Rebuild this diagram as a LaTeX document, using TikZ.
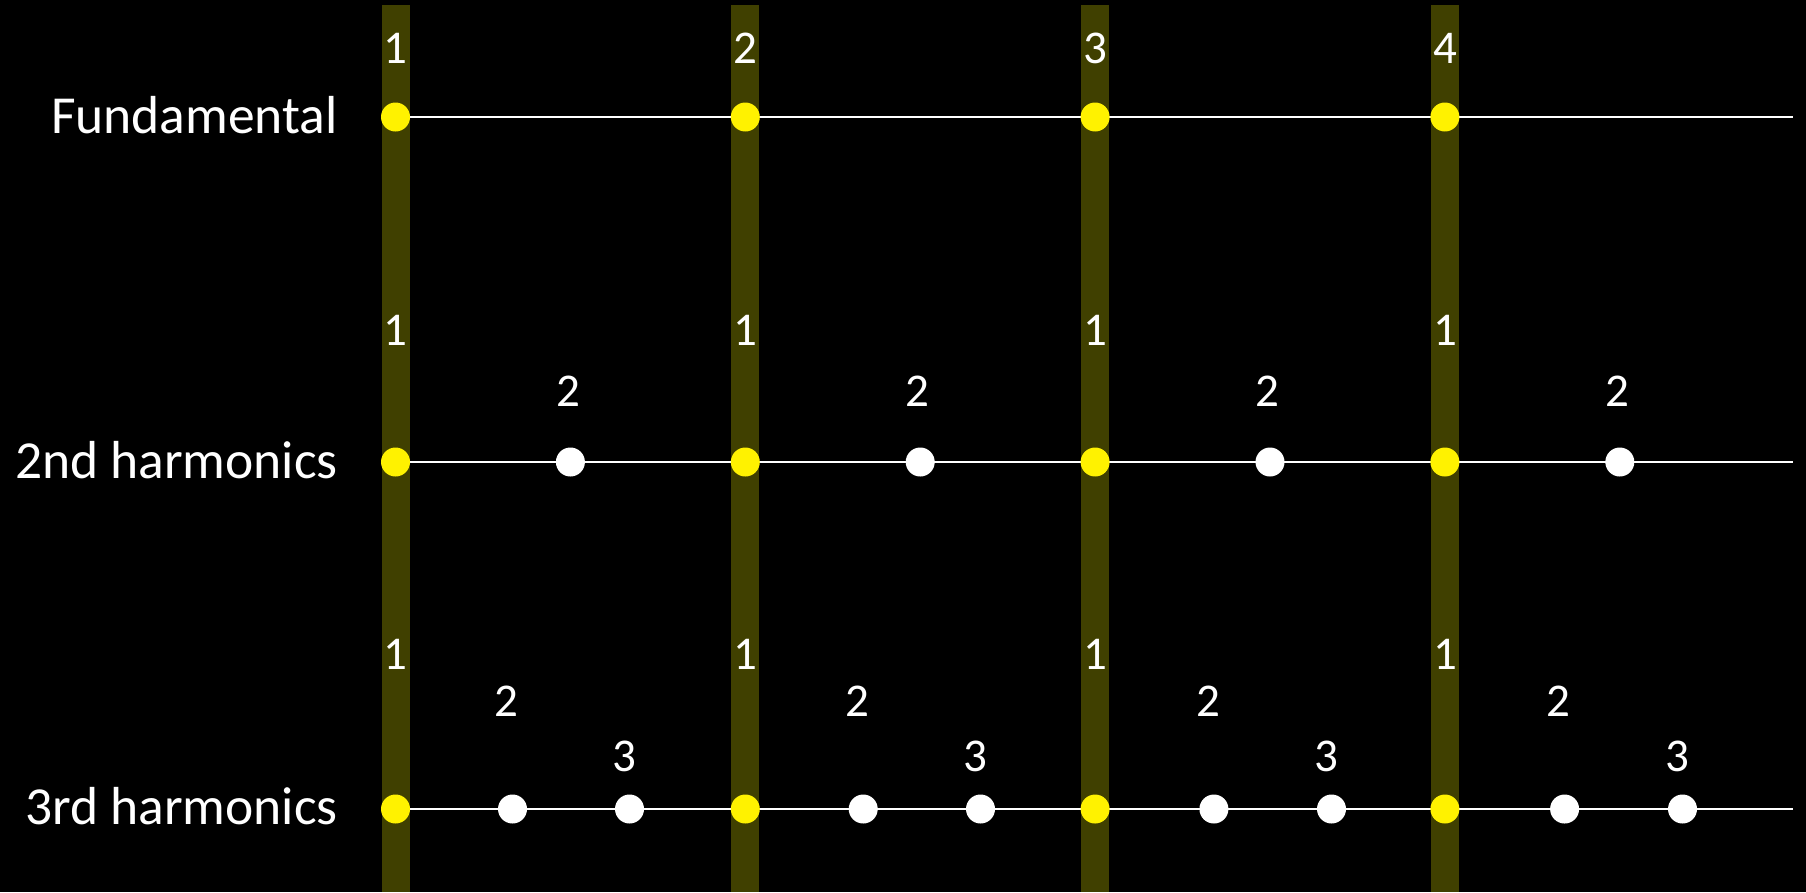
\documentclass[tikz,border=0pt]{standalone}
\usepackage{fontspec}
\setmainfont{Carlito}
\definecolor{barcol}{RGB}{64,64,0}
\begin{document}
\begin{tikzpicture}[x=1pt,y=-1pt,
  barfill/.style={fill=barcol, draw=none},
  ydot/.style={circle, fill=yellow, draw=none, inner sep=0pt, minimum size=29pt},
  wdot/.style={circle, fill=white, draw=none, inner sep=0pt, minimum size=29pt},
  wire/.style={draw=white, line width=2pt},
  num/.style={text=white, font=\fontsize{47}{56}\selectfont, anchor=base, inner sep=0pt},
  rowlab/.style={text=white, font=\fontsize{53.5}{62}\selectfont, anchor=base east, inner sep=0pt}]
\fill[black] (0,0) rectangle (1806,892);
\useasboundingbox (0,0) rectangle (1806,892);
% vertical bars
\foreach \i in {0,...,3} {
  \fill[barfill] ({395.5+349.8*\i-14},5) rectangle ({395.5+349.8*\i+14},892);
}
% row lines
\coordinate (r1s) at (395.5,117);
\coordinate (r1e) at (1793,117);
\coordinate (r2s) at (395.5,462);
\coordinate (r2e) at (1793,462);
\coordinate (r3s) at (395.5,809);
\coordinate (r3e) at (1793,809);
\draw[wire] (r1s) -- (r1e);
\draw[wire] (r2s) -- (r2e);
\draw[wire] (r3s) -- (r3e);
% row labels
\node[rowlab] (lab1) at (338,133.3) {Fundamental};
\node[rowlab] (lab2) at (338,478) {2nd harmonics};
\node[rowlab] (lab3) at (338,824) {3rd harmonics};
% fundamental
\foreach \i [evaluate=\i as \n using int(\i+1)] in {0,...,3} {
  \node[ydot] (f\n) at ({395.5+349.8*\i},117) {};
  \node[num] (fn\n) at ({395.5+349.8*\i},63) {\n};
}
% 2nd harmonics
\foreach \i [evaluate=\i as \n using int(\i+1)] in {0,...,3} {
  \node[ydot] (s\n) at ({395.5+349.8*\i},462) {};
  \node[wdot] (sm\n) at ({395.5+349.8*\i+174.9},462) {};
  \node[num] (sn\n) at ({395.5+349.8*\i},345) {1};
  \node[num] (smn\n) at ({395.5+349.8*\i+172.5},406) {2};
}
% 3rd harmonics
\foreach \i [evaluate=\i as \n using int(\i+1)] in {0,...,3} {
  \node[ydot] (t\n) at ({395.5+349.8*\i},809) {};
  \node[wdot] (ta\n) at ({395.5+349.8*\i+117+0.9*\i},809) {};
  \node[wdot] (tb\n) at ({395.5+349.8*\i+234+1.2*\i},809) {};
  \node[num] (tn\n) at ({395.5+349.8*\i},669) {1};
  \node[num] (tan\n) at ({395.5+349.8*\i+111+0.9*\i},716) {2};
  \node[num] (tbn\n) at ({395.5+349.8*\i+229+1.2*\i},771) {3};
}
\end{tikzpicture}
\end{document}
